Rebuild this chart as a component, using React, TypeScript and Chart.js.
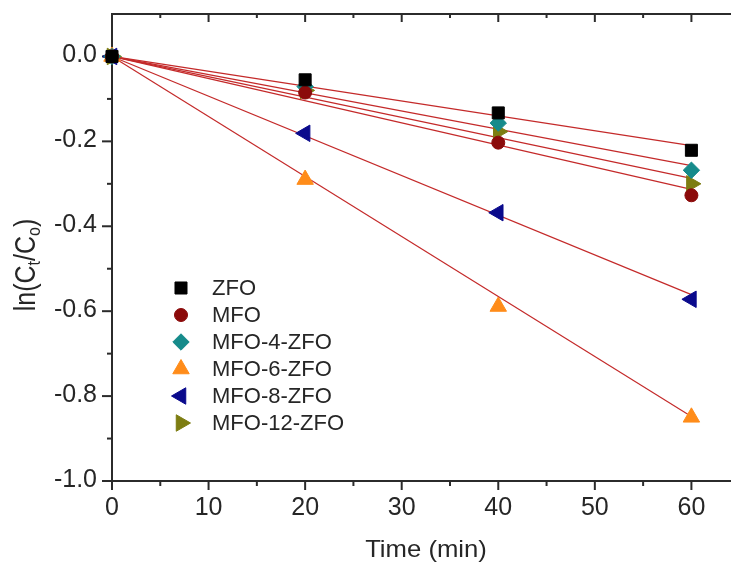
import React, { useEffect, useRef } from "react";
import { Chart, registerables } from "chart.js";
import { drawPoint } from "chart.js/helpers";

Chart.register(...registerables);

// ---- data ----
const seriesNames = ["ZFO", "MFO", "MFO-4-ZFO", "MFO-6-ZFO", "MFO-8-ZFO", "MFO-12-ZFO"];
const timePoints = [0, 20, 40, 60];
const zfo = [0, -0.055, -0.133, -0.221];
const mfo = [0, -0.085, -0.203, -0.327];
const mfo4 = [0, -0.071, -0.157, -0.268];
const mfo6 = [0, -0.29, -0.589, -0.85];
const mfo8 = [0, -0.181, -0.368, -0.572];
const mfo12 = [0, -0.08, -0.177, -0.3];
// linear-fit lines (start and end values)
const fitStartTime = 0;
const fitEndTime = 60;
const fitStart = [0, 0, 0, 0, 0, 0];
const fitEnd = [-0.21, -0.313, -0.257, -0.848, -0.561, -0.287];
// ticks
const xTicks = [0, 10, 20, 30, 40, 50, 60];
const xMinorTicks = [5, 15, 25, 35, 45, 55];
const yTicks = [-1.0, -0.8, -0.6, -0.4, -0.2, 0.0];
const yMinorTicks = [-0.9, -0.7, -0.5, -0.3, -0.1];
const xAxisMin = 0;
const xAxisMax = 64.1;
const yAxisMin = -1.0;
const yAxisMax = 0.1;

// ---- styles ----
const colors = ["#000000", "#8b0a0a", "#168b8b", "#ff8c1a", "#0a0a8c", "#7d7d12"];
const pointStyles = ["rect", "circle", "rectRot", "triangle", "triangle", "triangle"];
const rotations = [0, 0, 0, 0, -90, 90];
const radii = [8.5, 6.5, 8.2, 9.5, 9.5, 9.5];
const fitColor = "#c42a2a";
const axisColor = "#2b2b2b";
const textColor = "#262626";
const fontFamily = '"Liberation Sans", Arial, Helvetica, sans-serif';

const axesPlugin = {
  id: "originAxes",
  beforeDatasetsDraw(chart: any) {
    const { ctx, chartArea, scales } = chart;
    const { left, right, top, bottom } = chartArea;
    const x = scales.x;
    const y = scales.y;
    ctx.save();
    ctx.strokeStyle = axisColor;
    ctx.lineWidth = 2;
    ctx.lineCap = "butt";
    const seg = (x1: number, y1: number, x2: number, y2: number) => {
      ctx.beginPath();
      ctx.moveTo(x1, y1);
      ctx.lineTo(x2, y2);
      ctx.stroke();
    };
    seg(left, top - 1, left, bottom + 1);
    seg(left - 1, bottom, right, bottom);
    seg(left - 1, top, right, top);
    xTicks.forEach((v) => {
      const px = x.getPixelForValue(v);
      seg(px, bottom, px, bottom + 9);
      seg(px, top, px, top + 8);
    });
    xMinorTicks.forEach((v) => {
      const px = x.getPixelForValue(v);
      seg(px, bottom, px, bottom + 5);
      seg(px, top, px, top + 4);
    });
    yTicks.forEach((v) => {
      const py = y.getPixelForValue(v);
      seg(left - 10, py, left, py);
    });
    yMinorTicks.forEach((v) => {
      const py = y.getPixelForValue(v);
      seg(left - 5, py, left, py);
    });
    ctx.restore();
  },
};

const titlesPlugin = {
  id: "titles",
  afterDraw(chart: any) {
    const { ctx } = chart;
    ctx.save();
    ctx.fillStyle = textColor;
    ctx.font = `24px ${fontFamily}`;
    ctx.textAlign = "center";
    ctx.textBaseline = "alphabetic";
    ctx.save();
    ctx.translate(426, 557);
    ctx.scale(1.07, 1);
    ctx.fillText("Time (min)", 0, 0);
    ctx.restore();

    // y title: ln(C_t/C_o)
    const segs = [
      { t: "ln(C", sub: false },
      { t: "t", sub: true },
      { t: "/C", sub: false },
      { t: "o", sub: true },
      { t: ")", sub: false },
    ];
    const mainFont = `25px ${fontFamily}`;
    const subFont = `16px ${fontFamily}`;
    let total = 0;
    segs.forEach((s) => {
      ctx.font = s.sub ? subFont : mainFont;
      total += ctx.measureText(s.t).width;
    });
    ctx.translate(35, 265);
    ctx.rotate(-Math.PI / 2);
    ctx.scale(1, 1.15);
    ctx.textAlign = "left";
    let cx = -total / 2;
    segs.forEach((s) => {
      ctx.font = s.sub ? subFont : mainFont;
      ctx.fillText(s.t, cx, s.sub ? 4 : 0);
      cx += ctx.measureText(s.t).width;
    });
    ctx.restore();
  },
};

const legendMarkerX = 181;
const legendTextX = 212;
const legendTop = 288;
const legendRowGap = 27;

const legendPlugin = {
  id: "insideLegend",
  afterDraw(chart: any) {
    const { ctx } = chart;
    ctx.save();
    seriesNames.forEach((name, i) => {
      const cy = legendTop + i * legendRowGap;
      ctx.fillStyle = colors[i];
      ctx.strokeStyle = colors[i];
      ctx.lineWidth = 1;
      drawPoint(
        ctx,
        { pointStyle: pointStyles[i] as any, radius: radii[i], rotation: rotations[i], borderWidth: 1 },
        legendMarkerX,
        cy
      );
      ctx.fillStyle = textColor;
      ctx.font = `22px ${fontFamily}`;
      ctx.textAlign = "left";
      ctx.textBaseline = "middle";
      ctx.fillText(name, legendTextX, cy + 1);
    });
    ctx.restore();
  },
};

const zeroPadding = (s: any) => {
  s.paddingTop = 0;
  s.paddingBottom = 0;
  s.paddingLeft = 0;
  s.paddingRight = 0;
};

export default function App() {
  const ref = useRef<HTMLCanvasElement>(null);
  useEffect(() => {
    document.body.style.margin = "0";
    const canvas = ref.current;
    if (!canvas) return;
    const seriesValues = [zfo, mfo, mfo4, mfo6, mfo8, mfo12];
    const fitSets = seriesNames.map((n, i) => ({
      type: "line" as const,
      label: n + " fit",
      data: [
        { x: fitStartTime, y: fitStart[i] },
        { x: fitEndTime, y: fitEnd[i] },
      ],
      borderColor: fitColor,
      borderWidth: 1.2,
      pointRadius: 0,
      fill: false,
      tension: 0,
      order: 2,
      clip: false as any,
    }));
    const pointSets = seriesNames.map((n, i) => ({
      type: "scatter" as const,
      label: n,
      data: timePoints.map((t, j) => ({ x: t, y: seriesValues[i][j] })),
      backgroundColor: colors[i],
      borderColor: colors[i],
      borderWidth: 1,
      pointStyle: pointStyles[i] as any,
      pointRadius: radii[i],
      pointRotation: rotations[i],
      showLine: false,
      order: 1,
      clip: false as any,
    }));
    const tickFont = { family: fontFamily, size: 25 };
    const chart = new Chart(canvas, {
      type: "scatter",
      data: { datasets: [...fitSets, ...pointSets] as any },
      options: {
        animation: false,
        responsive: false,
        devicePixelRatio: 1,
        layout: { autoPadding: false, padding: { left: 0, top: 14, right: 0, bottom: 0 } },
        plugins: { legend: { display: false }, tooltip: { enabled: false } },
        scales: {
          x: {
            type: "linear",
            min: xAxisMin,
            max: xAxisMax,
            afterBuildTicks: (s: any) => {
              s.ticks = xTicks.map((v) => ({ value: v }));
            },
            afterFit: (s: any) => {
              s.height = 84;
              zeroPadding(s);
            },
            grid: { display: false, drawTicks: false },
            border: { display: false },
            ticks: {
              font: tickFont,
              color: textColor,
              padding: 12,
              maxRotation: 0,
              autoSkip: false,
              callback: (v: any) => String(v),
            },
          },
          y: {
            type: "linear",
            min: yAxisMin,
            max: yAxisMax,
            afterBuildTicks: (s: any) => {
              s.ticks = yTicks.map((v) => ({ value: v }));
            },
            afterFit: (s: any) => {
              s.width = 112;
              zeroPadding(s);
            },
            grid: { display: false, drawTicks: false },
            border: { display: false },
            ticks: {
              font: tickFont,
              color: textColor,
              padding: 15,
              autoSkip: false,
              labelOffset: -1,
              callback: (v: any) => Number(v).toFixed(1),
            },
          },
        },
      },
      plugins: [axesPlugin, titlesPlugin, legendPlugin],
    });
    return () => chart.destroy();
  }, []);
  return <canvas ref={ref} width={731} height={565} style={{ display: "block" }} />;
}
